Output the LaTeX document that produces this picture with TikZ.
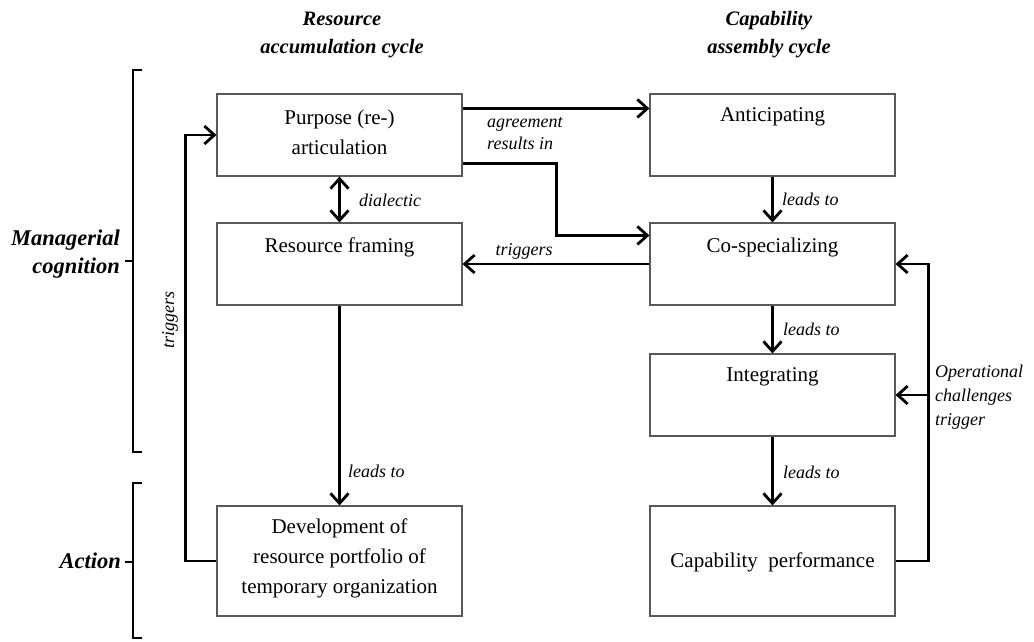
\documentclass[tikz,border=0pt]{standalone}
\usepackage{fontspec}
\setmainfont{Liberation Serif}
\usetikzlibrary{arrows.meta,calc}
\begin{document}
\begin{tikzpicture}[x=1pt,y=-1pt,
  box/.style={draw=black!65, line width=1.1pt, minimum width=245pt, inner sep=0pt, fill=white},
  boxtext/.style={align=center, font=\fontsize{21}{30}\selectfont, inner sep=0pt},
  lbl/.style={font=\fontsize{18}{22}\selectfont\itshape, inner sep=0pt, align=left},
  head/.style={font=\fontsize{20.5}{28}\selectfont\bfseries\itshape, align=center, inner sep=0pt},
  side/.style={font=\fontsize{22.5}{28}\selectfont\bfseries\itshape, align=right, inner sep=0pt},
  arr/.style={line width=2.8pt, -{Straight Barb[length=10pt,width=18pt]}},
  arrtwo/.style={line width=2.8pt, {Straight Barb[length=10pt,width=18pt]}-{Straight Barb[length=10pt,width=18pt]}},
  brk/.style={line width=2.8pt}]
\useasboundingbox (0,0) rectangle (1034,641);

% headers
\node[head] (h1) at (342,35) {Resource\\accumulation cycle};
\node[head] (h2) at (769,35) {Capability\\assembly cycle};

% side labels and brackets
\node[side, anchor=east] (mc) at (120,254) {Managerial\\cognition};
\node[side, anchor=east] (ac) at (121,561) {Action};
\draw[brk] (142,70) -- (133,70) -- (133,452) -- (142,452);
\draw[brk] (125,261) -- (133,261);
\draw[brk] (142,483) -- (133,483) -- (133,638) -- (142,638);
\draw[brk] (125,562) -- (133,562);

% boxes
\node[box, minimum height=82pt] (purpose) at (339.5,135) {};
\node[box, minimum height=82pt] (rframe) at (339.5,264) {};
\node[box, minimum height=110pt] (dev) at (339.5,561) {};
\node[box, minimum height=82pt] (antic) at (772.5,135) {};
\node[box, minimum height=82pt] (cospec) at (772.5,264) {};
\node[box, minimum height=82pt] (integ) at (772.5,395) {};
\node[box, minimum height=110pt] (cap) at (772.5,561) {};

% box texts
\node[boxtext] (tpurpose) at (339.5,132) {Purpose (re-)\\articulation};
\node[boxtext] (trframe) at (339.5,247) {Resource framing};
\node[boxtext] (tdev) at (339.5,558) {Development of\\resource portfolio of\\temporary organization};
\node[boxtext] (tantic) at (772.5,117) {Anticipating};
\node[boxtext] (tcospec) at (772.5,247) {Co-specializing};
\node[boxtext] (tinteg) at (772.5,377) {Integrating};
\node[boxtext] (tcap) at (772.5,562) {Capability\ \ performance};

% connectors
\draw[arr] ($(purpose.north east)+(0,15)$) -- ($(antic.north west)+(0,15)$);
\draw[arr] ($(purpose.south east)+(0,-13)$) -- ++(94,0) |- ($(cospec.north west)+(0,13)$);
\draw[arr] (cospec.west) -- (rframe.east);
\draw[arrtwo] (purpose.south) -- (rframe.north);
\draw[arr] (rframe.south) -- (dev.north);
\draw[arr] (dev.west) -- ++(-31,0) |- (purpose.west);
\draw[arr] (antic.south) -- (cospec.north);
\draw[arr] (cospec.south) -- (integ.north);
\draw[arr] (integ.south) -- (cap.north);
\coordinate (fb) at ($(cap.east)+(33,0)$);
\draw[arr] (cap.east) -- (fb) |- (cospec.east);
\draw[arr] (fb |- integ.east) -- (integ.east);

% labels
\node[lbl, anchor=west] (lagree) at (487,134) {agreement\\results in};
\node[lbl] (ltrig) at (524,251) {triggers};
\node[lbl, anchor=west] (ldial) at (359,200) {dialectic};
\node[lbl, anchor=west] (lleads1) at (348,471) {leads to};
\node[lbl, anchor=west] (lleads2) at (782,199) {leads to};
\node[lbl, anchor=west] (lleads3) at (783,329) {leads to};
\node[lbl, anchor=west] (lleads4) at (783,472) {leads to};
\node[lbl, rotate=90] (ltrig2) at (170,320) {triggers};
\node[lbl, anchor=west, font=\fontsize{18}{24}\selectfont\itshape] (lop) at (935,397) {Operational\\challenges\\trigger};
\end{tikzpicture}
\end{document}
